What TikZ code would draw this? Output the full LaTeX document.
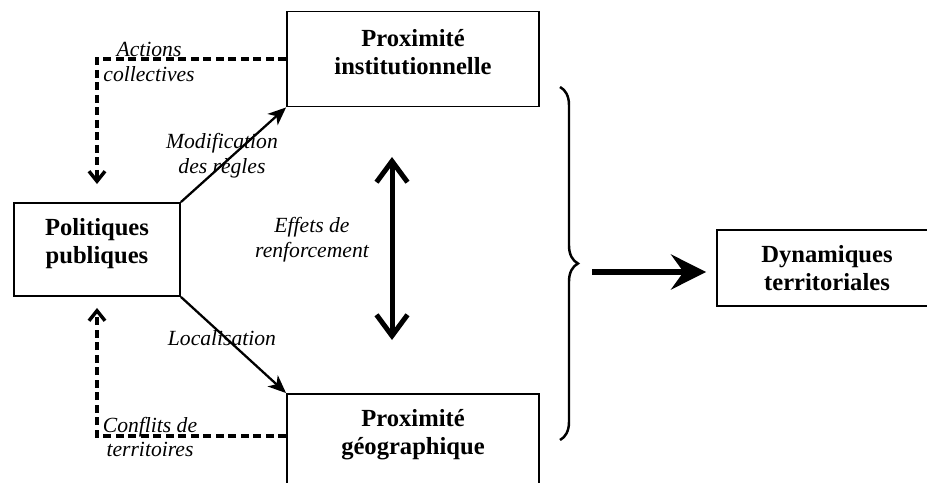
\documentclass[tikz,border=0pt]{standalone}
\usepackage{fontspec}
\setmainfont{Liberation Serif}
\usetikzlibrary{arrows.meta,decorations.pathreplacing}

\begin{document}
\begin{tikzpicture}[x=0.02cm, y=-0.02cm,
    box/.style={draw, line width=1.1pt, inner sep=0pt},
    boxtext/.style={align=center, font=\fontsize{14}{15.9}\selectfont\bfseries},
    lbl/.style={align=center, font=\fontsize{12.3}{14.2}\selectfont\itshape},
    flow/.style={line width=1.3pt, -{Stealth[length=0.36cm, width=0.3cm, inset=0.1cm]}},
    dashflow/.style={line width=0.07cm, dash pattern=on 0.16cm off 0.09cm,
        -{Straight Barb[length=0.2cm, width=0.32cm]}},
    bothway/.style={line width=0.1cm, {Straight Barb[length=0.42cm, width=0.62cm]}-{Straight Barb[length=0.42cm, width=0.62cm]}},
    bigflow/.style={line width=0.13cm, -{Stealth[length=0.7cm, width=0.7cm, inset=0.25cm]}}]
    \useasboundingbox (0,0) rectangle (927,483);

    % boxes
    \node[box, minimum width=5.04cm, minimum height=1.9cm,
      label={[boxtext, yshift=0.14cm]center:{Proximité\\institutionnelle}}] (inst) at (413,59) {};
    \node[box, minimum width=5.04cm, minimum height=1.9cm,
      label={[boxtext, yshift=0.14cm]center:{Proximité\\géographique}}] (geo) at (413,441.5) {};
    \node[box, minimum width=3.32cm, minimum height=1.86cm,
      label={[boxtext, yshift=0.11cm]center:{Politiques\\publiques}}] (pol) at (97,249.5) {};
    \node[box, minimum width=4.4cm, minimum height=1.52cm,
      label={[boxtext]center:{Dynamiques\\territoriales}}] (dyn) at (827,268) {};

    % labels
    \node[lbl] (actions) at (149,62) {Actions\\collectives};
    \node[lbl] (conflits) at (150,437) {Conflits de\\territoires};
    \node[lbl] (modif) at (222,156) {Modification\\des règles};
    \node[lbl] (local) at (222,338) {Localisation};
    \node[lbl] (effets) at (312,240) {Effets de\\renforcement};

    % arrows
    \draw[flow] (pol.north east) -- (inst.south west);
    \draw[flow] (pol.south east) -- (geo.north west);
    \draw[dashflow, shorten >=0.36cm] (inst.west) -| (pol.north);
    \draw[dashflow, shorten >=0.22cm] ([yshift=0.11cm]geo.west) -| (pol.south);

    \coordinate (rtop) at (392,157);
    \coordinate (rbot) at (392,340);
    \draw[bothway] (rtop) -- (rbot);

    \draw[decorate, decoration={brace, amplitude=0.36cm}, line width=1.4pt] (560,87) -- (560,440);
    \coordinate (bracetip) at (578,272);
    \draw[bigflow, shorten <=0.28cm, shorten >=0.2cm] (bracetip) -- (bracetip -| dyn.west);
\end{tikzpicture}
\end{document}
